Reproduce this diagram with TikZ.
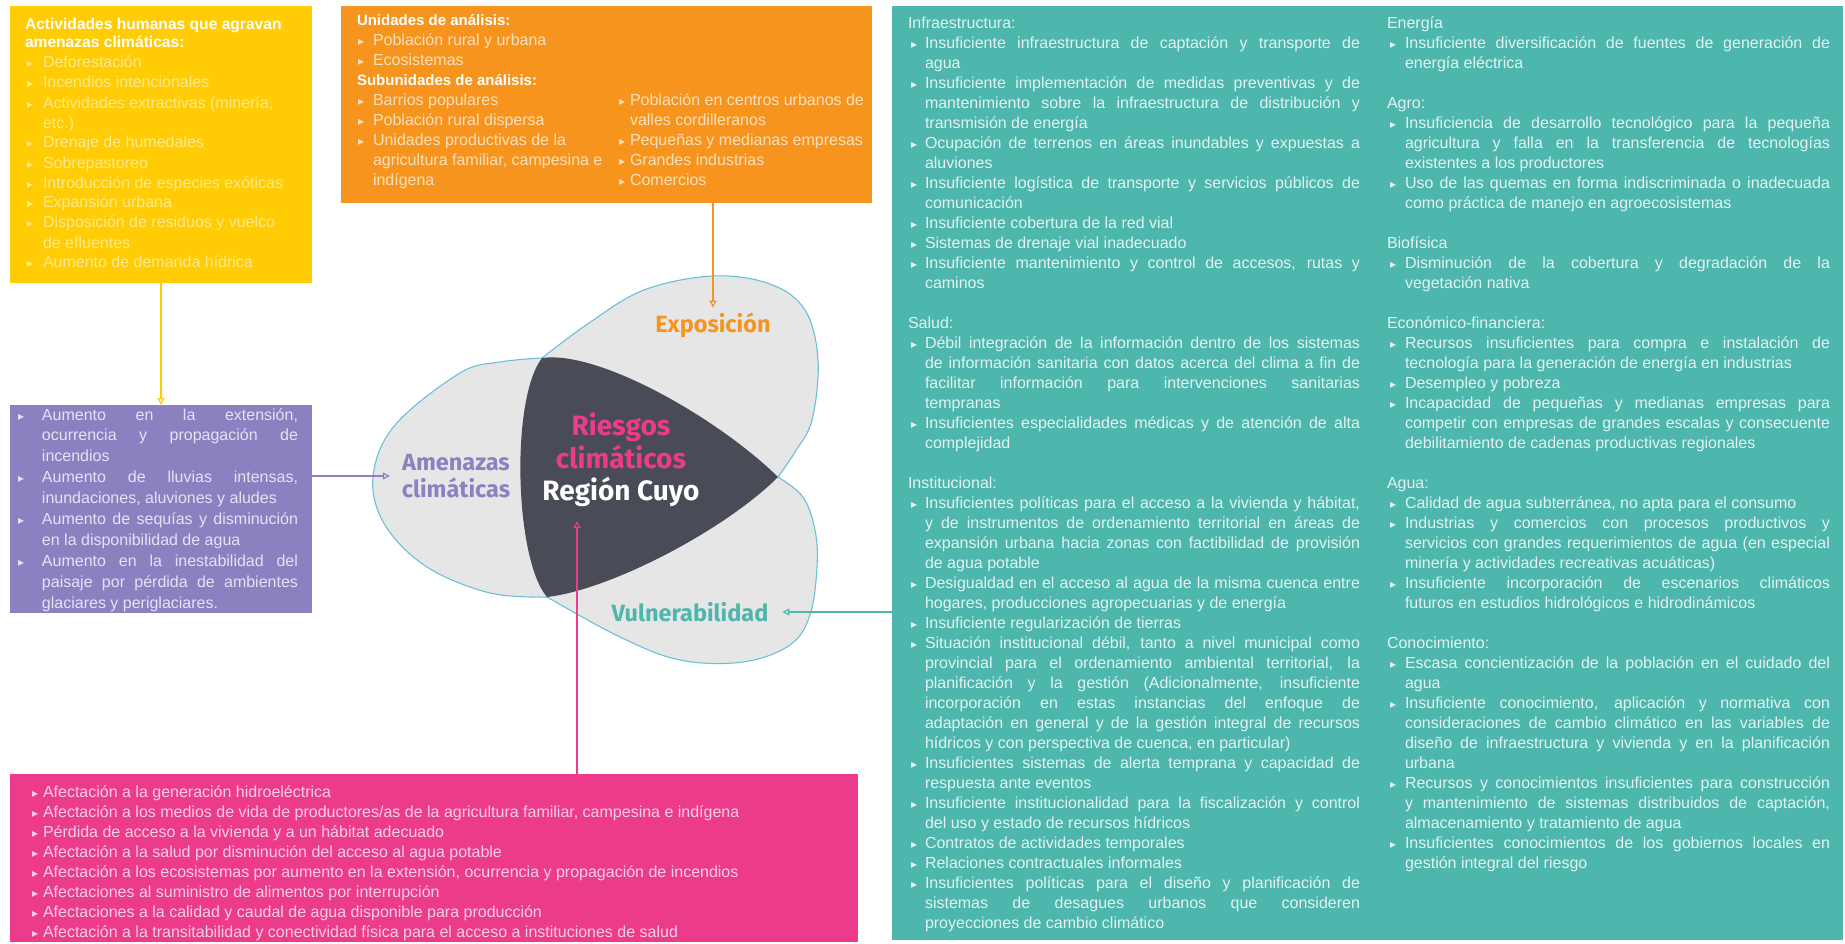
\documentclass[tikz,border=0pt]{standalone}
\usepackage{fontspec}
\setmainfont{Liberation Sans}
\newfontfamily\lblf{Fira Sans}
\newfontfamily\symf{DejaVu Sans}
\usetikzlibrary{arrows.meta}
\definecolor{cyel}{HTML}{FFCC05}
\definecolor{cyeltx}{HTML}{FFE98A}
\definecolor{corg}{HTML}{F7941E}
\definecolor{corgtx}{HTML}{FDE0BC}
\definecolor{cpur}{HTML}{8C80C1}
\definecolor{cpurtx}{HTML}{E6E2F4}
\definecolor{cpnk}{HTML}{EC3B8B}
\definecolor{cpnktx}{HTML}{F9CFE2}
\definecolor{ctea}{HTML}{4DB6AD}
\definecolor{cteatx}{HTML}{E2F3F1}
\definecolor{cblob}{HTML}{E6E6E7}
\definecolor{cblobl}{HTML}{6CBFD9}
\definecolor{cdark}{HTML}{494C56}
\newlength\lind \newlength\bsh
\newcommand\xbul{{\symf\fontsize{12}{12}\selectfont\char"25B8}}
\newcommand\xHD[1]{\hbox{\strut#1}}
\newcommand\xBJ[1]{\hbox to\hsize{\strut\makebox[\lind][l]{\hspace*{\bsh}\xbul}#1}}
\newcommand\xBE[1]{\hbox{\strut\makebox[\lind][l]{\hspace*{\bsh}\xbul}#1}}
\newcommand\xCJ[1]{\hbox to\hsize{\strut\hspace*{\lind}#1}}
\newcommand\xCE[1]{\hbox{\strut\hspace*{\lind}#1}}
\newcommand\xBL{\hbox{\strut}}
\newcommand\xOH{\color{white}\bfseries\fontsize{15}{20}\selectfont}
\newcommand\tbx[5]{\vbox{\hsize=#1\relax\lind=#2\relax\bsh=#3\relax\fontsize{16}{#4}\selectfont #5}}
\tikzset{
 panel/.style={anchor=north west, inner sep=0pt, outer sep=0pt, draw=none},
 txt/.style={anchor=north west, inner sep=0pt, outer sep=0pt},
 lbl/.style={inner sep=0pt, outer sep=6pt, font=\lblf\bfseries\fontsize{23.5}{27}\selectfont},
 biglbl/.style={inner sep=0pt, outer sep=6pt, font=\lblf\bfseries\fontsize{28}{32.5}\selectfont},
 arr/.style={line width=1.2pt, -{Triangle[open, length=7pt, width=7pt]}},
}
\begin{document}
\begin{tikzpicture}[x=1pt, y=-1pt]
\useasboundingbox (0,0) rectangle (1845,944);
\fill[white] (0,0) rectangle (1845,944);

% panels
\node[panel, fill=cyel, minimum width=302pt, minimum height=277pt] (ybox) at (10,6) {};
\node[panel, fill=corg, minimum width=531pt, minimum height=197pt] (obox) at (341,6) {};
\node[panel, fill=ctea, minimum width=951pt, minimum height=934pt] (tbox) at (892,6) {};
\node[panel, fill=cpur, minimum width=302pt, minimum height=208pt] (pbox) at (10,405) {};
\node[panel, fill=cpnk, minimum width=848pt, minimum height=168pt] (kbox) at (10,774) {};

% yellow text
\node[txt, text=white] (yhead) at (25,17) {\vbox{\fontsize{15.6}{18}\selectfont\bfseries
\hbox{\strut Actividades humanas que agravan}
\hbox{\strut amenazas climáticas:}}};
\node[txt, text=cyeltx] (ytext) at (25,54) {\tbx{288pt}{18pt}{2pt}{20}{
\xBE{Deforestación}
\xBE{Incendios intencionales}
\xBE{Actividades extractivas (minería,}
\xCE{etc.)}
\xBE{Drenaje de humedales}
\xBE{Sobrepastoreo}
\xBE{Introducción de especies exóticas}
\xBE{Expansión urbana}
\xBE{Disposición de residuos y vuelco}
\xCE{de efluentes}
\xBE{Aumento de demanda hídrica}
}};

% orange text
\node[txt, text=corgtx] (otext1) at (357,12) {\tbx{262pt}{16pt}{1pt}{20}{
\xHD{\xOH Unidades de análisis:}
\xBE{Población rural y urbana}
\xBE{Ecosistemas}
\xHD{\xOH Subunidades de análisis:}
\xBE{Barrios populares}
\xBE{Población rural dispersa}
\xBE{Unidades productivas de la}
\xCE{agricultura familiar, campesina e}
\xCE{indígena}
}};
\node[txt, text=corgtx] (otext2) at (619,92) {\tbx{250pt}{11pt}{0pt}{20}{
\xBE{Población en centros urbanos de}
\xCE{valles cordilleranos}
\xBE{Pequeñas y medianas empresas}
\xBE{Grandes industrias}
\xBE{Comercios}
}};

% purple text
\node[txt, text=cpurtx] (ptext) at (16,405.4) {\tbx{282pt}{26pt}{2pt}{20.9}{
\xBJ{Aumento en la extensión,}
\xCJ{ocurrencia y propagación de}
\xCE{incendios}
\xBJ{Aumento de lluvias intensas,}
\xCE{inundaciones, aluviones y aludes}
\xBJ{Aumento de sequías y disminución}
\xCE{en la disponibilidad de agua}
\xBJ{Aumento en la inestabilidad del}
\xCJ{paisaje por pérdida de ambientes}
\xCE{glaciares y periglaciares.}
}};

% pink text
\node[txt, text=cpnktx] (ktext) at (32,783) {\tbx{820pt}{11pt}{0pt}{20}{
\xBE{Afectación a la generación hidroeléctrica}
\xBE{Afectación a los medios de vida de productores/as de la agricultura familiar, campesina e indígena}
\xBE{Pérdida de acceso a la vivienda y a un hábitat adecuado}
\xBE{Afectación a la salud por disminución del acceso al agua potable}
\xBE{Afectación a los ecosistemas por aumento en la extensión, ocurrencia y propagación de incendios}
\xBE{Afectaciones al suministro de alimentos por interrupción}
\xBE{Afectaciones a la calidad y caudal de agua disponible para producción}
\xBE{Afectación a la transitabilidad y conectividad física para el acceso a instituciones de salud}
}};

% teal left column
\node[txt, text=cteatx] (ttext1) at (908,14) {\tbx{452pt}{17pt}{3pt}{20}{
\xHD{Infraestructura:}
\xBJ{Insuficiente infraestructura de captación y transporte de}
\xCE{agua}
\xBJ{Insuficiente implementación de medidas preventivas y de}
\xCJ{mantenimiento sobre la infraestructura de distribución y}
\xCE{transmisión de energía}
\xBJ{Ocupación de terrenos en áreas inundables y expuestas a}
\xCE{aluviones}
\xBJ{Insuficiente logística de transporte y servicios públicos de}
\xCE{comunicación}
\xBE{Insuficiente cobertura de la red vial}
\xBE{Sistemas de drenaje vial inadecuado}
\xBJ{Insuficiente mantenimiento y control de accesos, rutas y}
\xCE{caminos}
\xBL
\xHD{Salud:}
\xBJ{Débil integración de la información dentro de los sistemas}
\xCJ{de información sanitaria con datos acerca del clima a fin de}
\xCJ{facilitar información para intervenciones sanitarias}
\xCE{tempranas}
\xBJ{Insuficientes especialidades médicas y de atención de alta}
\xCE{complejidad}
\xBL
\xHD{Institucional:}
\xBJ{Insuficientes políticas para el acceso a la vivienda y hábitat,}
\xCJ{y de instrumentos de ordenamiento territorial en áreas de}
\xCJ{expansión urbana hacia zonas con factibilidad de provisión}
\xCE{de agua potable}
\xBJ{Desigualdad en el acceso al agua de la misma cuenca entre}
\xCE{hogares, producciones agropecuarias y de energía}
\xBE{Insuficiente regularización de tierras}
\xBJ{Situación institucional débil, tanto a nivel municipal como}
\xCJ{provincial para el ordenamiento ambiental territorial, la}
\xCJ{planificación y la gestión (Adicionalmente, insuficiente}
\xCJ{incorporación en estas instancias del enfoque de}
\xCJ{adaptación en general y de la gestión integral de recursos}
\xCE{hídricos y con perspectiva de cuenca, en particular)}
\xBJ{Insuficientes sistemas de alerta temprana y capacidad de}
\xCE{respuesta ante eventos}
\xBJ{Insuficiente institucionalidad para la fiscalización y control}
\xCE{del uso y estado de recursos hídricos}
\xBE{Contratos de actividades temporales}
\xBE{Relaciones contractuales informales}
\xBJ{Insuficientes políticas para el diseño y planificación de}
\xCJ{sistemas de desagues urbanos que consideren}
\xCE{proyecciones de cambio climático}
}};

% teal right column
\node[txt, text=cteatx] (ttext2) at (1387,14) {\tbx{443pt}{18pt}{3pt}{20}{
\xHD{Energía}
\xBJ{Insuficiente diversificación de fuentes de generación de}
\xCE{energía eléctrica}
\xBL
\xHD{Agro:}
\xBJ{Insuficiencia de desarrollo tecnológico para la pequeña}
\xCJ{agricultura y falla en la transferencia de tecnologías}
\xCE{existentes a los productores}
\xBJ{Uso de las quemas en forma indiscriminada o inadecuada}
\xCE{como práctica de manejo en agroecosistemas}
\xBL
\xHD{Biofísica}
\xBJ{Disminución de la cobertura y degradación de la}
\xCE{vegetación nativa}
\xBL
\xHD{Económico-financiera:}
\xBJ{Recursos insuficientes para compra e instalación de}
\xCE{tecnología para la generación de energía en industrias}
\xBE{Desempleo y pobreza}
\xBJ{Incapacidad de pequeñas y medianas empresas para}
\xCJ{competir con empresas de grandes escalas y consecuente}
\xCE{debilitamiento de cadenas productivas regionales}
\xBL
\xHD{Agua:}
\xBE{Calidad de agua subterránea, no apta para el consumo}
\xBJ{Industrias y comercios con procesos productivos y}
\xCJ{servicios con grandes requerimientos de agua (en especial}
\xCE{minería y actividades recreativas acuáticas)}
\xBJ{Insuficiente incorporación de escenarios climáticos}
\xCE{futuros en estudios hidrológicos e hidrodinámicos}
\xBL
\xHD{Conocimiento:}
\xBJ{Escasa concientización de la población en el cuidado del}
\xCE{agua}
\xBJ{Insuficiente conocimiento, aplicación y normativa con}
\xCJ{consideraciones de cambio climático en las variables de}
\xCJ{diseño de infraestructura y vivienda y en la planificación}
\xCE{urbana}
\xBJ{Recursos y conocimientos insuficientes para construcción}
\xCJ{y mantenimiento de sistemas distribuidos de captación,}
\xCE{almacenamiento y tratamiento de agua}
\xBJ{Insuficientes conocimientos de los gobiernos locales en}
\xCE{gestión integral del riesgo}
}};

% blob
\path[fill=cblob, draw=cblobl, line width=1.1pt]
 (542,358) -- plot[smooth, tension=0.6] coordinates {(542,358) (589,323) (644,290) (713,276) (770,284) (805,310) (818,360) (812,420) (795,452) (778,477)}
 -- plot[smooth, tension=0.6] coordinates {(778,477) (803,497) (815,530) (817,567) (810,615) (790,645) (743,662) (680,660) (620,637) (547,597)}
 -- plot[smooth, tension=0.6] coordinates {(547,597) (490,593) (427,567) (385,525) (373,477) (395,425) (460,373) (500,362) (542,358)} -- cycle;
\fill[cdark] (542,358) .. controls (600,350) and (720,420) .. (778,477)
 .. controls (725,530) and (610,590) .. (547,597)
 .. controls (515,560) and (510,400) .. (542,358) -- cycle;

% labels
\node[lbl, text=corg, outer sep=5pt] (expo) at (713,325) {Exposición};
\node[lbl, text=cpur, align=center, outer sep=12pt] (amen) at (456,476) {Amenazas\\climáticas};
\node[biglbl, align=center] (ries) at (621,460) {\textcolor{cpnk}{Riesgos}\\\textcolor{cpnk}{climáticos}\\\textcolor{white}{Región Cuyo}};
\node[lbl, text=ctea, outer sep=14pt] (vuln) at (690,612) {Vulnerabilidad};
\coordinate (kin) at (577,521);

% connectors
\draw[arr, draw=cyel] (ybox.south) -- (pbox.north);
\draw[arr, draw=corg] (obox.south -| expo.north) -- (expo.north);
\draw[arr, draw=cpur] (pbox.east |- amen.west) -- (amen.west);
\draw[arr, draw=ctea] (tbox.west |- vuln.east) -- (vuln.east);
\draw[arr, draw=cpnk] (kbox.north -| kin) -- (kin);
\end{tikzpicture}
\end{document}
